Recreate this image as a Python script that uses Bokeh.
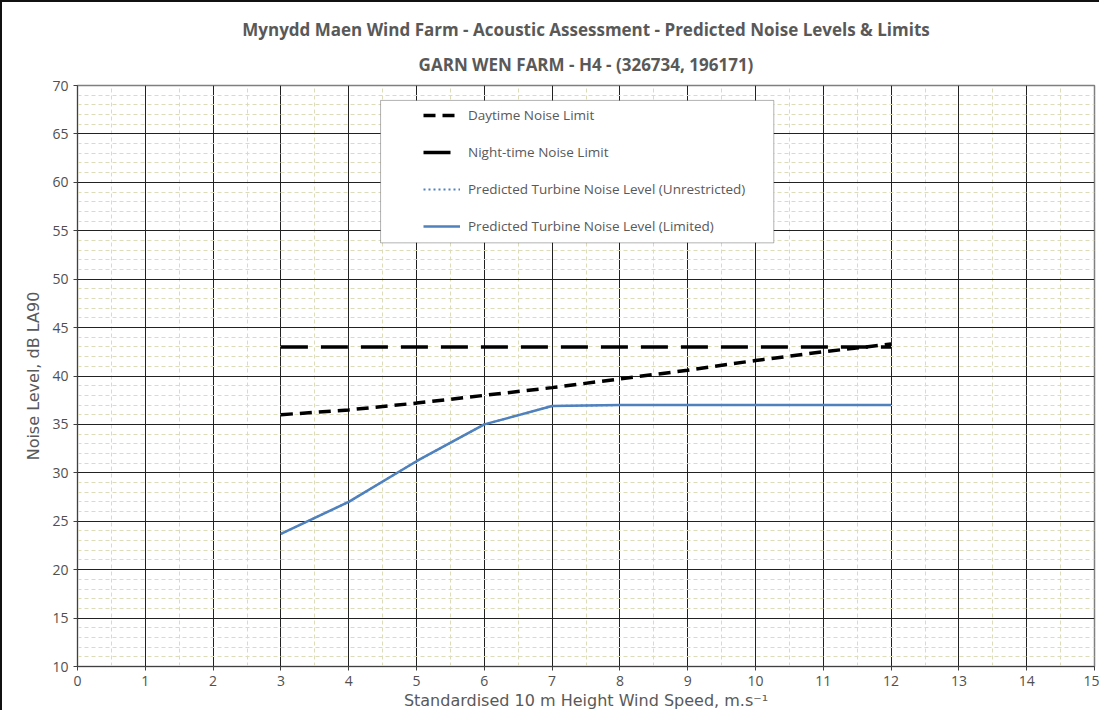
from bokeh.plotting import figure
from bokeh.models import (Legend, LegendItem, Title, SingleIntervalTicker, BoxAnnotation)
from bokeh.embed import file_html
from bokeh.resources import INLINE

# ---- data ----
wind_speed = [3, 4, 5, 6, 7, 8, 9, 10, 11, 12]
daytime_limit = [36.0, 36.5, 37.2, 38.0, 38.8, 39.7, 40.6, 41.6, 42.5, 43.3]
night_limit = [43.0, 43.0, 43.0, 43.0, 43.0, 43.0, 43.0, 43.0, 43.0, 43.0]
unrestricted = [23.7, 27.0, 31.2, 35.0, 36.9, 37.0, 37.0, 37.0, 37.0, 37.0]
limited = [23.7, 27.0, 31.2, 35.0, 36.9, 37.0, 37.0, 37.0, 37.0, 37.0]

title_1 = "Mynydd Maen Wind Farm - Acoustic Assessment - Predicted Noise Levels & Limits"
title_2 = "GARN WEN FARM - H4 - (326734, 196171)"
x_label = "Standardised 10 m Height Wind Speed, m.s\u207b\u00b9"
y_label = "Noise Level, dB LA90"
legend_labels = ["Daytime Noise Limit", "Night-time Noise Limit",
                 "Predicted Turbine Noise Level (Unrestricted)",
                 "Predicted Turbine Noise Level (Limited)"]

FONT = "Open Sans"
LFONT = "DejaVu Sans"
TXT = "#595959"

p = figure(width=1099, height=710, x_range=(0, 15), y_range=(10, 70),
           output_backend="svg", toolbar_location=None,
           min_border_left=75, min_border_right=7, min_border_top=83, min_border_bottom=46)
p.styles = {"border-left": "2px solid #111", "border-top": "2px solid #111"}

p.title.text = title_1
p.title.align = "center"
p.title.text_font = FONT
p.title.text_font_size = "17px"
p.title.text_font_style = "bold"
p.title.text_color = TXT
p.title.standoff = 1
p.add_layout(Title(text=title_2, align="center", text_font=FONT, text_font_size="17px",
                   text_font_style="bold", text_color=TXT, standoff=19), "above")

p.outline_line_color = "#7f7f7f"
p.outline_line_width = 1.5

p.xaxis.ticker = SingleIntervalTicker(interval=1, num_minor_ticks=2)
p.yaxis.ticker = SingleIntervalTicker(interval=5, num_minor_ticks=5)
for ax in (p.xaxis, p.yaxis):
    ax.major_label_text_font = FONT
    ax.major_label_text_font_size = "14px"
    ax.major_label_text_color = "#505050"
    ax.axis_label_text_font = LFONT
    ax.axis_label_text_font_size = "16px"
    ax.axis_label_text_font_style = "normal"
    ax.axis_label_text_color = TXT
    ax.axis_line_color = "#404040"
    ax.major_tick_line_color = "#404040"
    ax.major_tick_out = 4
    ax.major_tick_in = 0
    ax.minor_tick_line_color = None
p.xaxis.axis_label = x_label
p.yaxis.axis_label = y_label
p.xaxis.major_label_standoff = 5
p.yaxis.major_label_standoff = 5
p.xaxis.axis_label_standoff = 2
p.yaxis.axis_label_standoff = 6

p.grid.grid_line_color = "#222222"
p.grid.grid_line_width = 1
p.grid.minor_grid_line_color = "#dcdcb8"
p.grid.minor_grid_line_dash = "4 3"
p.grid.minor_grid_line_width = 1

r_day = p.line(wind_speed, daytime_limit, line_color="black", line_width=3.5, line_dash="12 7")
r_night = p.line(wind_speed, night_limit, line_color="black", line_width=3.5, line_dash="27 13")
r_unr = p.line(wind_speed, unrestricted, line_color="#4F81BD", line_width=2, line_dash="2 3")
r_lim = p.line(wind_speed, limited, line_color="#4F81BD", line_width=2.5)

# legend frame
p.add_layout(BoxAnnotation(left=4.47, right=10.27, top=68.46, bottom=53.75,
                           fill_color="white", fill_alpha=1, line_color="black", line_width=1))

legend = Legend(items=[LegendItem(label=legend_labels[0], renderers=[r_day]),
                       LegendItem(label=legend_labels[1], renderers=[r_night]),
                       LegendItem(label=legend_labels[2], renderers=[r_unr]),
                       LegendItem(label=legend_labels[3], renderers=[r_lim])],
                location=(346, 430), orientation="vertical",
                glyph_width=37, glyph_height=20, label_height=20, spacing=17,
                label_standoff=8, padding=0, margin=0,
                border_line_color=None, background_fill_alpha=0,
                label_text_font=FONT, label_text_font_size="13.5px", label_text_color=TXT)
p.add_layout(legend, "center")

open("out.html", "w").write(file_html(p, INLINE))
